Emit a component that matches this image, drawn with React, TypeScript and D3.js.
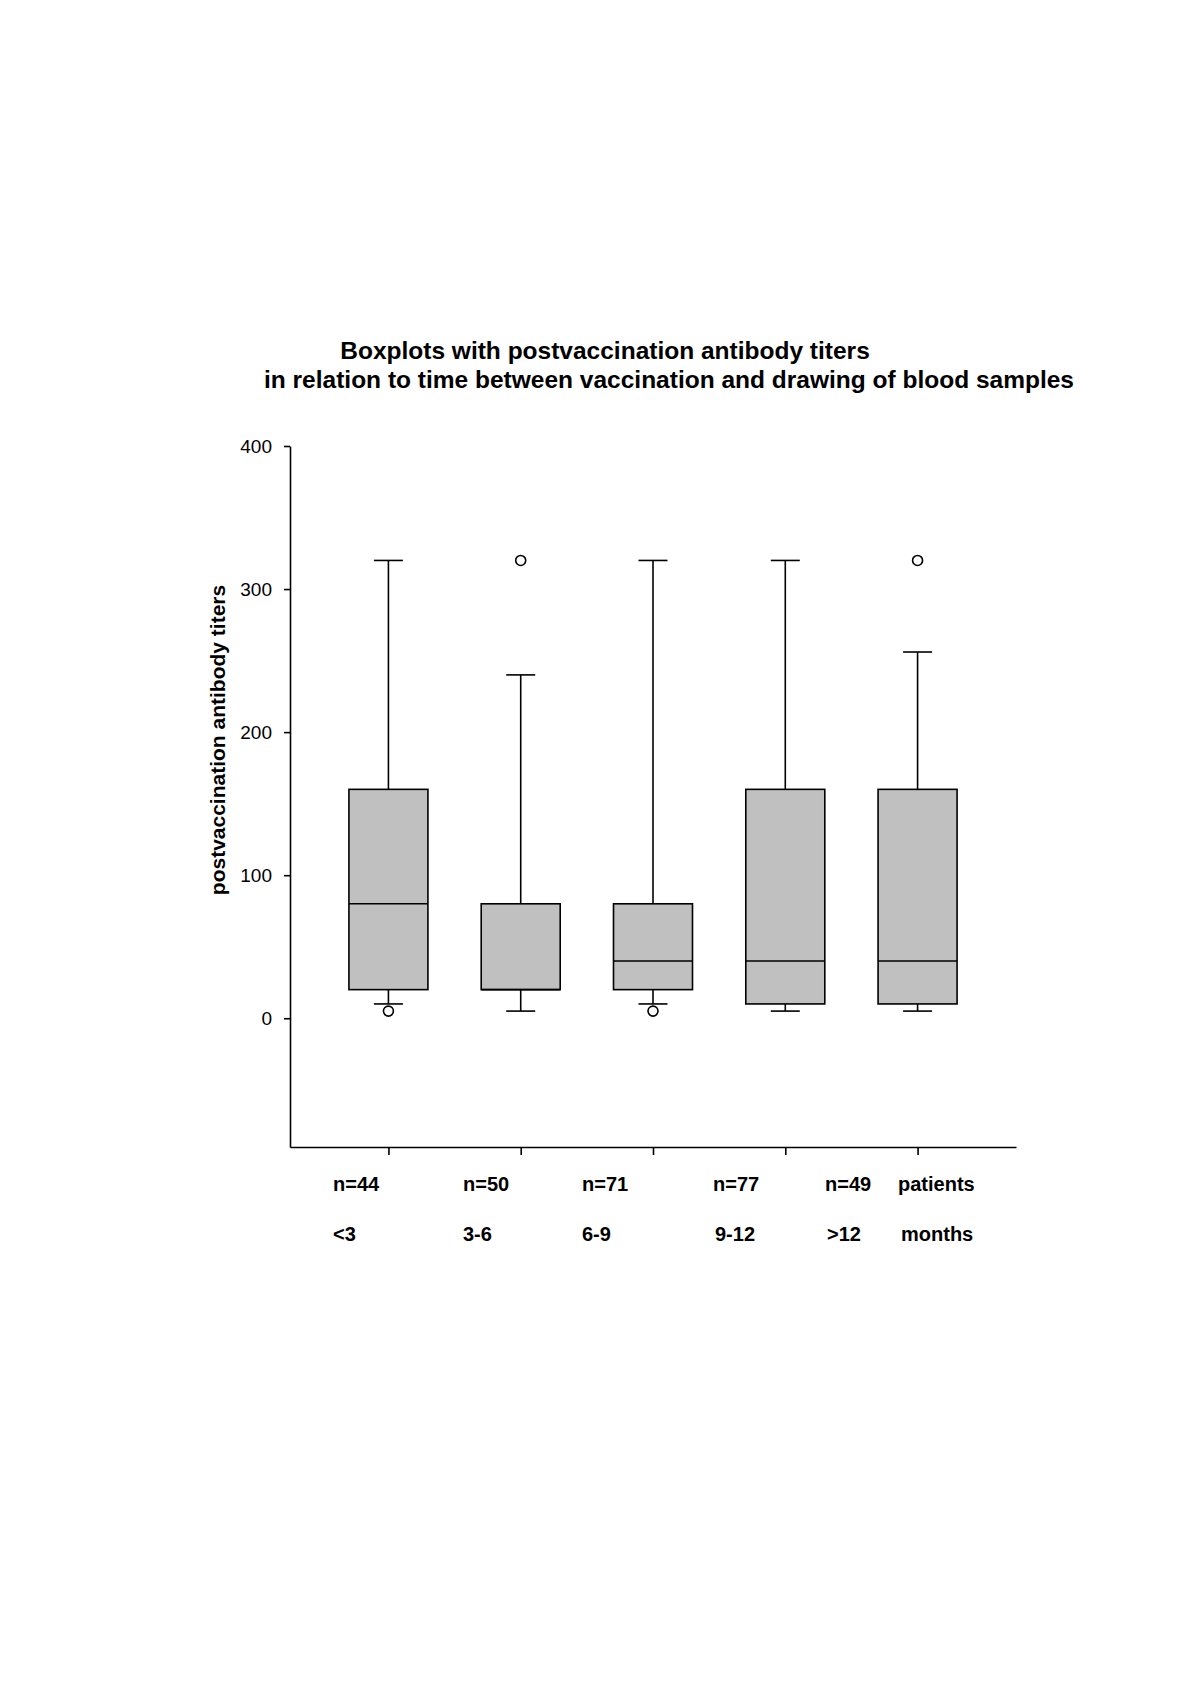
import React, { useEffect, useRef } from 'react';
import * as d3 from 'd3';

const width = 1200;
const height = 1696;
const plot = { left: 290, right: 1016, top: 446, bottom: 1147 };
const boxFill = '#c0c0c0';
const font = '"Liberation Sans", Arial, sans-serif';

const groups = ['<3', '3-6', '6-9', '9-12', '>12'];
const counts = [44, 50, 71, 77, 49];
const lowerWhisker = [10, 5, 10, 5, 5];
const q1 = [20, 20, 20, 10, 10];
const median = [80, 20, 40, 40, 40];
const q3 = [160, 80, 80, 160, 160];
const upperWhisker = [320, 240, 320, 320, 256];
const outliers = [[5], [320], [5], [], [320]];
const yTicks = [0, 100, 200, 300, 400];

// the labels under the axis sit on their own grid, not under the ticks
const countLabelX = [333, 463, 582, 713, 825, 898];
const groupLabelX = [333, 463, 582, 715, 827, 901];

const boxWidth = 79;
const capWidth = 29;

const App = () => {
  const xAxisRef = useRef<SVGGElement>(null);
  const yAxisRef = useRef<SVGGElement>(null);

  const xScale = d3.scalePoint<string>().domain(groups).range([plot.left, plot.right]).padding(0.744);
  const yScale = d3.scaleLinear().domain([-90, 400]).range([plot.bottom, plot.top]);

  useEffect(() => {
    const xAxis = d3.axisBottom(xScale).tickSizeInner(8).tickSizeOuter(0).tickFormat(() => '');
    const yAxis = d3.axisLeft(yScale).tickValues(yTicks).tickSizeInner(6).tickSizeOuter(0).tickPadding(12);

    const gx = d3.select(xAxisRef.current!).call(xAxis);
    const gy = d3.select(yAxisRef.current!).call(yAxis);
    for (const g of [gx, gy]) {
      g.selectAll('path, line').attr('stroke', '#000').attr('stroke-width', 1.6);
    }
    gy.selectAll('text')
      .attr('font-family', font)
      .attr('font-size', 19)
      .attr('fill', '#000');
  }, []);

  return (
    <svg width={width} height={height} style={{ position: 'absolute', left: 0, top: 0, background: '#fff' }}>
      <g fontFamily={font} fontWeight="bold" fontSize={24.5} fill="#000">
        <text x={605} y={359} textAnchor="middle">Boxplots with postvaccination antibody titers</text>
        <text x={669} y={388} textAnchor="middle">in relation to time between vaccination and drawing of blood samples</text>
      </g>

      <text
        transform={`translate(225, 740) rotate(-90)`}
        textAnchor="middle"
        fontFamily={font}
        fontWeight="bold"
        fontSize={21}
      >
        postvaccination antibody titers
      </text>

      {groups.map((g, i) => {
        const cx = xScale(g)!;
        return (
          <g key={g} stroke="#000" strokeWidth={1.6}>
            <line x1={cx} x2={cx} y1={yScale(q3[i])} y2={yScale(upperWhisker[i])} />
            <line x1={cx - capWidth / 2} x2={cx + capWidth / 2} y1={yScale(upperWhisker[i])} y2={yScale(upperWhisker[i])} />
            <line x1={cx} x2={cx} y1={yScale(q1[i])} y2={yScale(lowerWhisker[i])} />
            <line x1={cx - capWidth / 2} x2={cx + capWidth / 2} y1={yScale(lowerWhisker[i])} y2={yScale(lowerWhisker[i])} />
            <rect
              x={cx - boxWidth / 2}
              y={yScale(q3[i])}
              width={boxWidth}
              height={yScale(q1[i]) - yScale(q3[i])}
              fill={boxFill}
            />
            <line x1={cx - boxWidth / 2} x2={cx + boxWidth / 2} y1={yScale(median[i])} y2={yScale(median[i])} />
            {outliers[i].map((v, j) => (
              <circle key={j} cx={cx} cy={yScale(v)} r={5} fill="#fff" />
            ))}
          </g>
        );
      })}

      <g ref={xAxisRef} transform={`translate(0, ${plot.bottom})`} />
      <g ref={yAxisRef} transform={`translate(${plot.left}, 0)`} />

      <g fontFamily={font} fontWeight="bold" fontSize={20} fill="#000">
        {counts.map((n, i) => (
          <text key={i} x={countLabelX[i]} y={1191}>{`n=${n}`}</text>
        ))}
        <text x={countLabelX[5]} y={1191}>patients</text>
        {groups.map((g, i) => (
          <text key={g} x={groupLabelX[i]} y={1241}>{g}</text>
        ))}
        <text x={groupLabelX[5]} y={1241}>months</text>
      </g>
    </svg>
  );
};

export default App;
